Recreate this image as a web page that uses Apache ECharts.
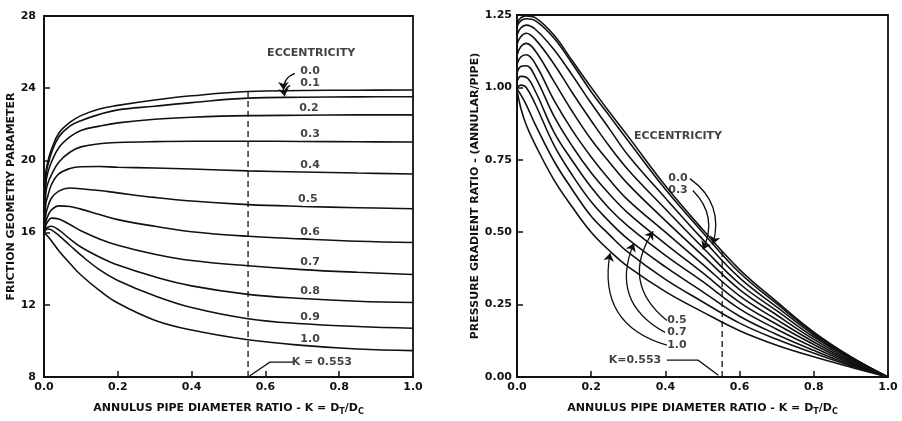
<!DOCTYPE html>
<html><head><meta charset="utf-8">
<script src="https://cdn.jsdelivr.net/npm/echarts@6/dist/echarts.min.js"></script>
<style>html,body{margin:0;padding:0;background:#fff}#c{width:902px;height:421px}</style>
</head><body><div id="c"></div>
<script>
// ---------- DATA ----------
const eccentricities = ['0.0','0.1','0.2','0.3','0.4','0.5','0.6','0.7','0.8','0.9','1.0'];
const xTickLabels = ['0.0','0.2','0.4','0.6','0.8','1.0'];
const kMarker = 0.553;

// Left chart: friction geometry parameter vs K
const frictionK = [0, 0.005, 0.01, 0.02, 0.04, 0.07, 0.1, 0.15, 0.2, 0.3, 0.4, 0.553, 0.7, 0.85, 1.0];
const frictionE00 = [16, 19.3, 19.9, 20.6, 21.5, 22.1, 22.48, 22.85, 23.05, 23.35, 23.58, 23.82, 23.87, 23.89, 23.9];
const frictionE01 = [16, 19.1, 19.7, 20.4, 21.3, 21.9, 22.2, 22.55, 22.8, 23.0, 23.2, 23.45, 23.5, 23.52, 23.53];
const frictionE02 = [16, 18.7, 19.3, 19.9, 20.7, 21.3, 21.66, 21.9, 22.08, 22.28, 22.39, 22.48, 22.5, 22.52, 22.52];
const frictionE03 = [16, 18.2, 18.7, 19.2, 19.9, 20.45, 20.75, 20.92, 20.99, 21.04, 21.06, 21.06, 21.05, 21.03, 21.02];
const frictionE04 = [16, 17.6, 18.0, 18.65, 19.25, 19.55, 19.65, 19.66, 19.62, 19.58, 19.52, 19.42, 19.36, 19.3, 19.25];
const frictionE05 = [16, 17.0, 17.4, 17.9, 18.3, 18.47, 18.43, 18.33, 18.2, 17.95, 17.75, 17.55, 17.45, 17.38, 17.32];
const frictionE06 = [16, 16.6, 16.9, 17.25, 17.48, 17.45, 17.3, 17.0, 16.72, 16.35, 16.05, 15.8, 15.65, 15.52, 15.45];
const frictionE07 = [16, 16.4, 16.6, 16.8, 16.75, 16.45, 16.1, 15.65, 15.3, 14.8, 14.45, 14.16, 13.95, 13.8, 13.68];
const frictionE08 = [16, 16.2, 16.3, 16.35, 16.15, 15.65, 15.2, 14.65, 14.2, 13.55, 13.05, 12.58, 12.35, 12.2, 12.13];
const frictionE09 = [16, 16.15, 16.2, 16.15, 15.85, 15.3, 14.75, 13.95, 13.35, 12.5, 11.85, 11.23, 10.95, 10.8, 10.7];
const frictionE10 = [16, 15.9, 15.8, 15.55, 15.0, 14.3, 13.65, 12.8, 12.1, 11.15, 10.6, 10.06, 9.75, 9.55, 9.46];
const frictionDashTop = 23.83;

// Right chart: pressure gradient ratio vs K
const pressureK = [0, 0.01, 0.025, 0.05, 0.1, 0.15, 0.2, 0.25, 0.3, 0.4, 0.5, 0.6, 0.7, 0.8, 0.9, 1.0];
const pressureE00 = [1.22, 1.24, 1.247, 1.24, 1.18, 1.09, 1.0, 0.913, 0.83, 0.66, 0.51, 0.371, 0.26, 0.155, 0.07, 0];
const pressureE01 = [1.21, 1.23, 1.237, 1.23, 1.17, 1.08, 0.985, 0.9, 0.815, 0.648, 0.5, 0.36, 0.253, 0.151, 0.068, 0];
const pressureE02 = [1.18, 1.205, 1.215, 1.2, 1.13, 1.04, 0.945, 0.855, 0.765, 0.618, 0.476, 0.342, 0.242, 0.145, 0.065, 0];
const pressureE03 = [1.15, 1.175, 1.187, 1.165, 1.08, 0.98, 0.885, 0.795, 0.715, 0.58, 0.448, 0.322, 0.229, 0.138, 0.062, 0];
const pressureE04 = [1.11, 1.14, 1.152, 1.125, 1.02, 0.915, 0.82, 0.74, 0.665, 0.54, 0.42, 0.302, 0.214, 0.13, 0.058, 0];
const pressureE05 = [1.08, 1.105, 1.113, 1.08, 0.955, 0.85, 0.76, 0.68, 0.61, 0.5, 0.39, 0.28, 0.198, 0.121, 0.054, 0];
const pressureE06 = [1.05, 1.072, 1.075, 1.035, 0.9, 0.795, 0.705, 0.63, 0.565, 0.46, 0.36, 0.258, 0.182, 0.112, 0.05, 0];
const pressureE07 = [1.02, 1.038, 1.035, 0.985, 0.845, 0.745, 0.655, 0.58, 0.52, 0.42, 0.33, 0.235, 0.165, 0.102, 0.046, 0];
const pressureE08 = [1.0, 1.008, 1.0, 0.94, 0.8, 0.695, 0.605, 0.535, 0.475, 0.38, 0.295, 0.21, 0.147, 0.092, 0.042, 0];
const pressureE09 = [0.995, 0.975, 0.94, 0.87, 0.745, 0.645, 0.555, 0.49, 0.43, 0.337, 0.26, 0.186, 0.13, 0.082, 0.038, 0];
const pressureE10 = [0.99, 0.93, 0.87, 0.8, 0.68, 0.585, 0.5, 0.435, 0.38, 0.295, 0.225, 0.16, 0.11, 0.07, 0.034, 0];
const pressureDashTop = 0.44;

// ---------- ANNOTATION ANCHORS (data units) ----------
const leftLabels = [
  [0.724, 25.92, 'ECCENTRICITY'],
  [0.721, 24.93, '0.0'], [0.721, 24.27, '0.1'], [0.718, 22.9, '0.2'], [0.721, 21.48, '0.3'],
  [0.721, 19.73, '0.4'], [0.715, 17.86, '0.5'], [0.721, 16.05, '0.6'], [0.721, 14.36, '0.7'],
  [0.721, 12.77, '0.8'], [0.721, 11.34, '0.9'], [0.721, 10.08, '1.0'],
  [0.753, 8.82, 'K = 0.553']
];
const leftArrows = [
  {coords: [[0.68, 24.82], [0.649, 23.9]], curve: -0.35},
  {coords: [[0.667, 24.16], [0.652, 23.55]], curve: -0.35}
];
const leftLeader = [[0.675, 8.82], [0.612, 8.82], [0.557, 8.06]];

const rightLabels = [
  [0.434, 0.832, 'ECCENTRICITY'],
  [0.434, 0.685, '0.0'], [0.434, 0.644, '0.3'],
  [0.431, 0.195, '0.5'], [0.431, 0.154, '0.7'], [0.431, 0.110, '1.0'],
  [0.318, 0.058, 'K=0.553']
];
const rightArrows = [
  {coords: [[0.466, 0.685], [0.528, 0.458]], curve: 0.35},
  {coords: [[0.474, 0.644], [0.501, 0.44]], curve: 0.35},
  {coords: [[0.404, 0.195], [0.367, 0.503]], curve: 0.45},
  {coords: [[0.399, 0.154], [0.315, 0.462]], curve: 0.45},
  {coords: [[0.404, 0.110], [0.251, 0.428]], curve: 0.45}
];
const rightLeader = [[0.404, 0.058], [0.488, 0.058], [0.543, 0.006]];

// ---------- CHART ----------
const INK = '#111';
const FONT = 'DejaVu Sans';
const frictionSets = [frictionE00, frictionE01, frictionE02, frictionE03, frictionE04, frictionE05, frictionE06, frictionE07, frictionE08, frictionE09, frictionE10];
const pressureSets = [pressureE00, pressureE01, pressureE02, pressureE03, pressureE04, pressureE05, pressureE06, pressureE07, pressureE08, pressureE09, pressureE10];

function curve(name, K, vals, idx) {
  return {
    type: 'line', name: name, xAxisIndex: idx, yAxisIndex: idx,
    data: K.map((k, i) => [k, vals[i]]),
    smooth: 0.4, showSymbol: false, silent: true,
    lineStyle: {color: INK, width: 1.6}, z: 3
  };
}
function labels(arr, idx) {
  return {
    type: 'scatter', xAxisIndex: idx, yAxisIndex: idx, symbolSize: 0, silent: true,
    data: arr.map(a => [a[0], a[1], a[2]]),
    label: {show: true, position: 'inside', formatter: p => p.data[2], color: INK, fontFamily: FONT, fontSize: 11, fontWeight: 'bold'},
    z: 5
  };
}
function arrows(arr, idx) {
  return {
    type: 'lines', coordinateSystem: 'cartesian2d', xAxisIndex: idx, yAxisIndex: idx, silent: true,
    symbol: ['none', 'arrow'], symbolSize: 8,
    data: arr.map(a => ({coords: a.coords, lineStyle: {curveness: a.curve}})),
    lineStyle: {color: INK, width: 1.3, opacity: 1}, z: 4
  };
}
function leader(pts, idx) {
  return {
    type: 'lines', coordinateSystem: 'cartesian2d', polyline: true, xAxisIndex: idx, yAxisIndex: idx, silent: true,
    symbol: ['none', 'arrow'], symbolSize: 8,
    data: [{coords: pts}],
    lineStyle: {color: INK, width: 1.3, opacity: 1}, z: 4
  };
}
function dash(top, bottom, idx) {
  return {
    type: 'line', xAxisIndex: idx, yAxisIndex: idx, silent: true, showSymbol: false,
    data: [[kMarker, bottom], [kMarker, top]],
    lineStyle: {color: INK, width: 1.3, type: [6, 4]}, z: 2
  };
}

const axisCommon = {
  axisLine: {show: true, lineStyle: {color: INK, width: 1.8}},
  axisTick: {show: true, inside: true, length: 6, lineStyle: {color: INK, width: 1.5}},
  splitLine: {show: false},
  axisLabel: {color: INK, fontFamily: FONT, fontSize: 11, fontWeight: 'bold'},
  nameTextStyle: {color: INK, fontFamily: FONT, fontSize: 11, fontWeight: 'bold'}
};
const xName = 'ANNULUS PIPE DIAMETER RATIO - K = D{s|T}/D{s|C}';
const subRich = {s: {fontSize: 8, fontFamily: FONT, fontWeight: 'bold', color: INK, verticalAlign: 'bottom', padding: [7, 0, 0, 0]}};

function xAxis(idx) {
  return Object.assign({}, axisCommon, {
    type: 'value', gridIndex: idx, min: 0, max: 1, interval: 0.2,
    axisLabel: Object.assign({}, axisCommon.axisLabel, {margin: 5, formatter: v => xTickLabels[Math.round(v / 0.2)]}),
    name: xName, nameLocation: 'middle', nameGap: 24,
    nameTextStyle: Object.assign({}, axisCommon.nameTextStyle, {rich: subRich})
  });
}

const chart = echarts.init(document.getElementById('c'), null, {renderer: 'canvas'});
const series = [];
eccentricities.forEach((e, i) => series.push(curve('F ' + e, frictionK, frictionSets[i], 0)));
eccentricities.forEach((e, i) => series.push(curve('P ' + e, pressureK, pressureSets[i], 1)));
series.push(dash(frictionDashTop, 8, 0), dash(pressureDashTop, 0, 1));
series.push(labels(leftLabels, 0), labels(rightLabels, 1));
series.push(arrows(leftArrows, 0), arrows(rightArrows, 1));
series.push(leader(leftLeader, 0), leader(rightLeader, 1));

chart.setOption({
  animation: false,
  backgroundColor: '#fff',
  grid: [
    {left: 44, top: 16, width: 369, height: 365, show: true, borderColor: INK, borderWidth: 1.8, backgroundColor: 'transparent'},
    {left: 517, top: 15, width: 371, height: 365, show: true, borderColor: INK, borderWidth: 1.8, backgroundColor: 'transparent'}
  ],
  xAxis: [xAxis(0), xAxis(1)],
  yAxis: [
    Object.assign({}, axisCommon, {
      type: 'value', gridIndex: 0, min: 8, max: 28, interval: 4,
      axisLabel: Object.assign({}, axisCommon.axisLabel, {margin: 8}),
      name: 'FRICTION GEOMETRY PARAMETER', nameLocation: 'middle', nameGap: 26
    }),
    Object.assign({}, axisCommon, {
      type: 'value', gridIndex: 1, min: 0, max: 1.25, interval: 0.25,
      axisLabel: Object.assign({}, axisCommon.axisLabel, {margin: 5, formatter: v => v.toFixed(2)}),
      name: 'PRESSURE GRADIENT RATIO - (ANNULAR/PIPE)', nameLocation: 'middle', nameGap: 34
    })
  ],
  series: series
});
</script></body></html>
